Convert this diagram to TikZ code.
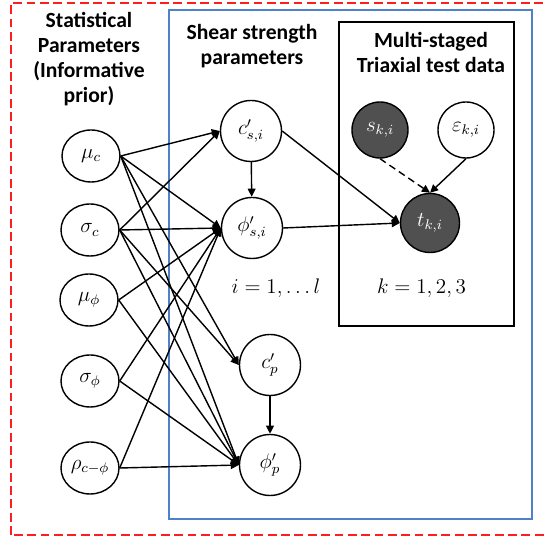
\documentclass[tikz,border=0pt]{standalone}
\usepackage{fontspec}
\newfontfamily\headfont{Carlito}
\usepackage{tikz}
\usetikzlibrary{arrows.meta, shapes.geometric}
\usepackage{xcolor}
\definecolor{plateRed}{RGB}{255, 30, 30}
\definecolor{plateBlue}{RGB}{79, 129, 200}
\definecolor{obsFill}{RGB}{80, 80, 80}

\begin{document}
\begin{tikzpicture}[
  font=\fontsize{12}{14.2}\selectfont,
  hyper/.style={ellipse, draw, line width=0.8pt, minimum width=1.16cm, minimum height=1.04cm, inner sep=0pt},
  param/.style={circle, draw, line width=0.8pt, minimum size=1.22cm, inner sep=0pt},
  datum/.style={circle, draw, line width=0.8pt, minimum size=1.12cm, inner sep=0pt},
  observed/.style={datum, fill=obsFill, text=white},
  title/.style={font=\headfont\bfseries\fontsize{12.3}{14.2}\selectfont, align=center},
  link/.style={->, line width=0.8pt},
  >={Triangle[length=4.6pt, width=4.4pt]}
]
  \useasboundingbox (0,0) rectangle (10.88,10.74);

  % --- Plates ---
  \draw[plateRed, line width=0.9pt, dash pattern=on 5pt off 2.6pt] (0.22,0.04) rectangle (11.2,10.68);
  \draw[plateBlue, line width=0.9pt] (3.38,0.36) rectangle (10.64,10.54);
  \draw[line width=0.9pt] (6.78,4.22) rectangle (10.28,10.30);

  % --- Statistical parameters (hyperpriors) ---
  \node[title] (hyperT) at (1.78,9.55) {Statistical\\Parameters\\(Informative\\prior)};
  \node[hyper] (muc)    at (1.82,7.62) {$\mu_c$};
  \node[hyper] (sigc)   at (1.80,6.14) {$\sigma_c$};
  \node[hyper] (muphi)  at (1.78,4.74) {$\mu_\phi$};
  \node[hyper] (sigphi) at (1.80,3.12) {$\sigma_\phi$};
  \node[hyper] (rho)    at (1.80,1.38) {$\rho_{c-\phi}$};

  % --- Shear strength parameters ---
  \node[title] (shearT) at (5.04,9.82) {Shear strength\\parameters};
  \node[param] (csi)   at (5.02,8.12) {$c'_{s,i}$};
  \node[param] (phisi) at (5.04,6.18) {$\phi'_{s,i}$};
  \node[param] (cp)    at (5.40,3.44) {$c'_p$};
  \node[param] (phip)  at (5.40,1.44) {$\phi'_p$};
  \node (iRange) at (5.52,4.98) {$i = 1, \ldots l$};

  % --- Triaxial test data ---
  \node[title] (testT) at (8.62,9.69) {Multi-staged\\Triaxial test data};
  \node[observed] (s)   at (7.60,8.14) {$s_{k,i}$};
  \node[datum]    (eps) at (9.32,8.14) {$\varepsilon_{k,i}$};
  \node[observed, minimum size=1.18cm] (t) at (8.60,6.28) {$t_{k,i}$};
  \node (kRange) at (8.43,4.98) {$k = 1, 2, 3$};

  % --- Edges ---
  \foreach \src in {muc, sigc} {
    \draw[link] (\src.east) -- (csi.west);
    \draw[link] (\src.east) -- (cp.west);
  }
  \foreach \src in {muc, sigc, muphi, sigphi, rho} {
    \draw[link] (\src.east) -- (phisi.west);
    \draw[link] (\src.east) -- (phip.west);
  }
  \draw[link] (csi) -- (phisi);
  \draw[link] (cp) -- (phip);
  \draw[link] (csi.east) -- (t.west);
  \draw[link] (phisi.east) -- (t.west);
  \draw[link, dash pattern=on 4pt off 2.5pt] (s.south) -- (t.north);
  \draw[link] (eps.south) -- (t.north);
\end{tikzpicture}
\end{document}
